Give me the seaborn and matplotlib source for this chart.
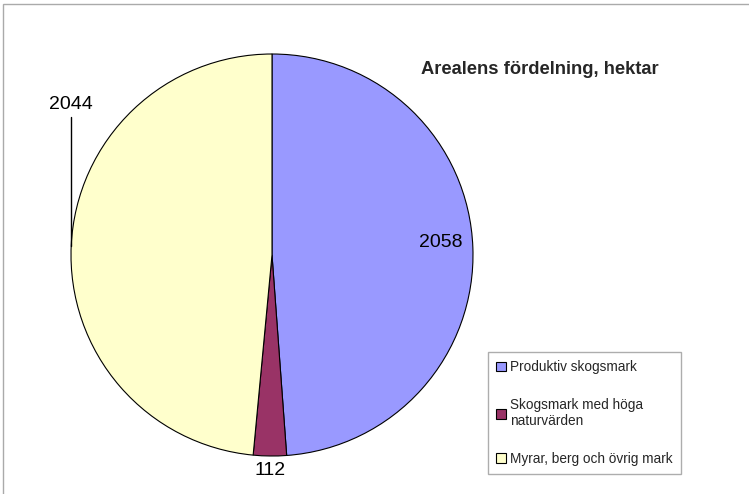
import numpy as np
import matplotlib
matplotlib.use("Agg")
import matplotlib.pyplot as plt
from matplotlib.patches import Rectangle, Patch
import seaborn as sns

# data
categories = ["Produktiv skogsmark", "Skogsmark med höga\nnaturvärden", "Myrar, berg och övrig mark"]
values = [2058, 112, 2044]
colors = ["#9999FF", "#993366", "#FFFFCC"]

sns.set_theme(style="white")
plt.rcParams['font.family'] = ['Liberation Sans', 'DejaVu Sans']

fig = plt.figure(figsize=(7.49, 4.94), dpi=100)
ax = fig.add_axes([71 / 749, 38 / 494, 402 / 749, 402 / 494])

wedges, _ = ax.pie(values, colors=colors, startangle=90, counterclock=False,
                   radius=1, wedgeprops=dict(edgecolor="black", linewidth=0.8))
ax.set_xlim(-1, 1)
ax.set_ylim(-1, 1)
ax.set_aspect("equal")
ax.axis("off")

# value labels at wedge mid-angles
mids = []
for w in wedges:
    a = np.deg2rad((w.theta1 + w.theta2) / 2)
    mids.append((np.cos(a), np.sin(a)))

ax.text(mids[0][0] * 0.84, mids[0][1] * 0.84 + 0.03, str(values[0]),
        ha="center", va="center", fontsize=14, color="black")
ax.text(mids[1][0] * 1.07, mids[1][1] * 1.07, str(values[1]),
        ha="center", va="center", fontsize=14, color="black")
# leader line label for third slice
ax.annotate(str(values[2]), xy=(mids[2][0], mids[2][1]), xytext=(-1.0, 0.75),
            ha="center", va="center", fontsize=14, color="black",
            arrowprops=dict(arrowstyle="-", color="black", lw=1,
                            shrinkA=1, shrinkB=0,
                            connectionstyle="angle,angleA=90,angleB=0,rad=0"),
            annotation_clip=False)

fig.text(540 / 749, 1 - 70 / 494, "Arealens fördelning, hektar",
         ha="center", va="center", fontsize=13.2, fontweight="bold")

handles = [Patch(facecolor=c, edgecolor="black", linewidth=0.8) for c in colors]
leg = fig.legend(handles, categories, loc="upper left",
                 bbox_to_anchor=(488 / 749, 1 - 352 / 494),
                 fontsize=9.8, frameon=True, fancybox=False,
                 handlelength=0.7, handleheight=0.7, handletextpad=0.3,
                 labelspacing=1.75, borderpad=0.6, borderaxespad=0)
leg.get_frame().set_edgecolor("#999999")
leg.get_frame().set_linewidth(1)

fig.add_artist(Rectangle((3 / 749, -0.2), 1.2, 1.2 - 4 / 494,
                         transform=fig.transFigure, fill=False,
                         edgecolor="#aaaaaa", linewidth=1))

fig.savefig("out.png", dpi=100)
